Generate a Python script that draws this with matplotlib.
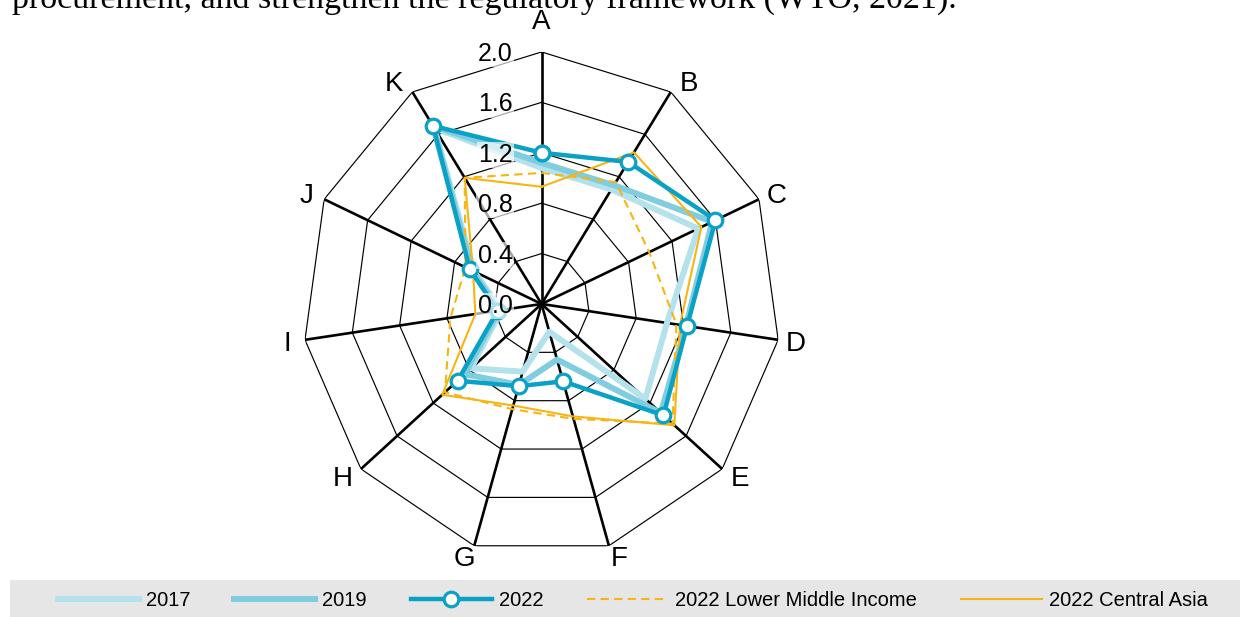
import numpy as np
import matplotlib.pyplot as plt
from matplotlib.patches import Rectangle

# Radar chart: indicators A..K, values on 0-2 scale
categories = ["A", "B", "C", "D", "E", "F", "G", "H", "I", "J", "K"]
r_ticks = [0.0, 0.4, 0.8, 1.2, 1.6, 2.0]

v2017 = [1.08, 1.08, 1.44, 1.06, 1.15, 0.23, 0.56, 0.78, 0.34, 0.62, 1.66]
v2019 = [1.12, 1.12, 1.57, 1.22, 1.32, 0.46, 0.67, 0.85, 0.36, 0.64, 1.68]
v2022 = [1.20, 1.34, 1.60, 1.23, 1.35, 0.64, 0.68, 0.93, 0.37, 0.66, 1.68]
v2022_lmi = [1.04, 1.15, 0.99, 1.14, 1.45, 0.95, 0.87, 1.07, 0.77, 0.70, 1.19]
v2022_ca = [0.93, 1.43, 1.47, 1.17, 1.47, 0.93, 0.84, 1.10, 0.56, 0.63, 1.19]

SANS = ["Liberation Sans", "DejaVu Sans"]
C17, C19, C22, ORANGE = "#B3E1EC", "#80CDE0", "#0AA1C6", "#F8B412"


def closed(vals):
    return list(vals) + [vals[0]]


n = len(categories)
theta = np.linspace(0, 2 * np.pi, n, endpoint=False)
theta_c = closed(list(theta))

fig = plt.figure(figsize=(12.4, 6.17), dpi=100)
ax = fig.add_axes([0.2440, 0.0989, 0.3855, 0.8169], projection="polar")
ax.set_aspect("auto")
ax.set_theta_zero_location("N")
ax.set_theta_direction(-1)
ax.set_ylim(0, 2.0)
ax.grid(False)
ax.spines["polar"].set_visible(False)
ax.set_xticks([])
ax.set_yticks([])
ax.patch.set_alpha(0)

# polygon grid
for v in r_ticks[1:]:
    ax.plot(theta_c, [v] * (n + 1), color="black", lw=0.85, zorder=1)
for t in theta:
    ax.plot([t, t], [0, 2.0], color="black", lw=1.9, zorder=1)

# series
ax.plot(theta_c, closed(v2017), color=C17, lw=4.3, zorder=3, label="2017")
ax.plot(theta_c, closed(v2019), color=C19, lw=4.3, zorder=4, label="2019")
ax.plot(theta_c, closed(v2022_lmi), color=ORANGE, lw=1.5, ls=(0, (4, 2.5)),
        zorder=5, label="2022 Lower Middle Income")
ax.plot(theta_c, closed(v2022_ca), color=ORANGE, lw=1.5, zorder=5,
        label="2022 Central Asia")
ax.plot(theta_c, closed(v2022), color=C22, lw=3.2, marker="o", ms=10.5,
        mfc="white", mec=C22, mew=2.3, zorder=6, label="2022")

# radial tick labels along the A spoke
for v in r_ticks:
    ax.annotate(f"{v:.1f}", xy=(0, v), xytext=(-21, -1.5),
                textcoords="offset points", ha="right", va="center",
                fontsize=18, family=SANS, zorder=7,
                bbox=dict(boxstyle="square,pad=0.05", fc="white",
                          ec="none", alpha=0.65))

# category labels just outside the spoke ends
for i, (t, lab) in enumerate(zip(theta, categories)):
    ox = 18 * np.clip(2 * np.sin(t), -1, 1)
    oy = 12 * np.cos(t) + (20 if i == 0 else 0) - 2
    ax.annotate(lab, xy=(t, 2.0), xytext=(ox * 0.72, oy * 0.72),
                textcoords="offset points", ha="center", va="center",
                fontsize=20, family=SANS)

# legend band at the bottom
fig.patches.append(Rectangle((10 / 1240, 0), 1 - 10 / 1240, 37 / 617,
                             transform=fig.transFigure, fc="#E6E6E6",
                             ec="none", zorder=0))
handles, labels = ax.get_legend_handles_labels()
order = ["2017", "2019", "2022", "2022 Lower Middle Income", "2022 Central Asia"]
hmap = dict(zip(labels, handles))
fig.legend([hmap[k] for k in order], order, loc="center left",
           bbox_to_anchor=(58 / 1240, 16 / 617), ncol=5, frameon=False,
           prop={"family": SANS, "size": 14.5}, handlelength=4.0,
           handletextpad=0.35, columnspacing=2.2, borderpad=0,
           borderaxespad=0)

# cut-off line of body text above the chart
fig.text(12 / 1240, 1 - 8 / 617,
         "procurement, and strengthen the regulatory framework (WTO, 2021).",
         ha="left", va="baseline", fontsize=24.5, family="Liberation Serif")

fig.savefig("out.png", dpi=100)
